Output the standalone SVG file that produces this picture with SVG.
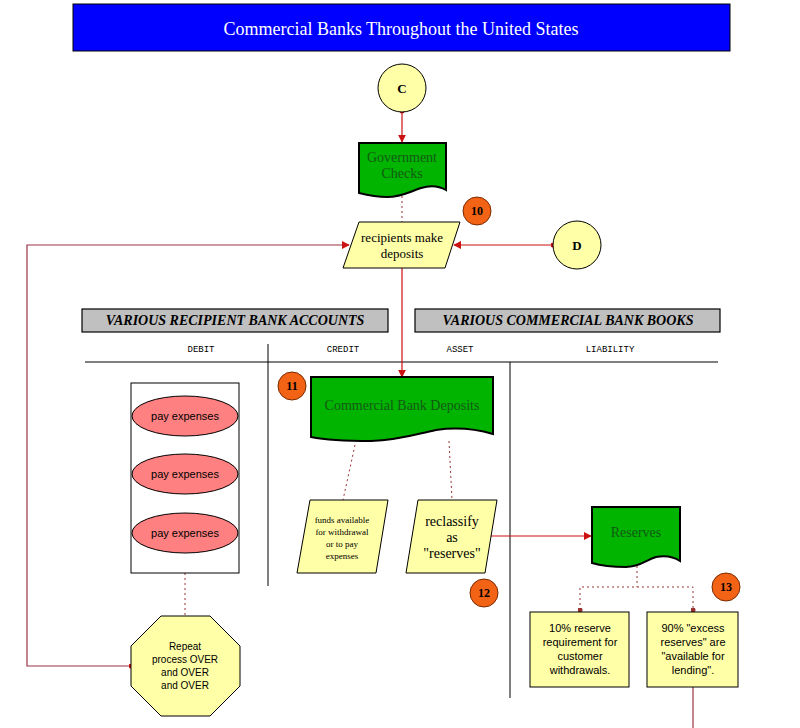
<svg xmlns="http://www.w3.org/2000/svg" width="800" height="728" viewBox="0 0 800 728">
<style>
.serif{font-family:"Liberation Serif","Times New Roman",serif}
.sans{font-family:"Liberation Sans",Arial,sans-serif}
.doc{fill:#00B400;stroke:#000;stroke-width:2}
.doct{font-family:"Liberation Serif",serif;font-size:14px;fill:#145A14;text-anchor:middle}
.yel{fill:#FFFFA8;stroke:#000;stroke-width:1}
.badge{fill:#F26315;stroke:#7A2A00;stroke-width:1}
.badget{font-family:"Liberation Serif",serif;font-size:12px;font-weight:bold;text-anchor:middle}
.hdr{fill:#C0C0C0;stroke:#000;stroke-width:1.2}
.hdrt{font-family:"Liberation Serif",serif;font-size:14px;font-weight:bold;font-style:italic;text-anchor:middle}
.col{font-family:"Liberation Mono","Courier New",monospace;font-size:9px;text-anchor:middle}
.red{stroke:#CC1111;stroke-width:1.2;fill:none}
.loop{stroke:#993344;stroke-width:1.2;fill:none}
.dot{stroke:#993333;stroke-width:1;stroke-dasharray:2,3;fill:none}
.rule{stroke:#000;stroke-width:1;fill:none}
.ell{fill:#FF8080;stroke:#000;stroke-width:1}
.st{font-family:"Liberation Sans",Arial,sans-serif;font-size:11px;text-anchor:middle}
</style>
<defs>
<marker id="arr" viewBox="0 0 10 10" refX="9" refY="5" markerWidth="8" markerHeight="8" markerUnits="userSpaceOnUse" orient="auto"><path d="M0,0 L10,5 L0,10 Z" fill="#CC1111"/></marker>
<marker id="sdot" viewBox="0 0 10 10" refX="5" refY="5" markerWidth="5" markerHeight="5" markerUnits="userSpaceOnUse"><circle cx="5" cy="5" r="5" fill="#CC1111"/></marker>
<marker id="ddot" viewBox="0 0 10 10" refX="5" refY="5" markerWidth="5" markerHeight="5" markerUnits="userSpaceOnUse"><circle cx="5" cy="5" r="5" fill="#993333"/></marker>
</defs>
<rect width="800" height="728" fill="#fff"/>

<g id="title">
<rect x="73" y="4" width="657" height="47" fill="#0000FF" stroke="#000" stroke-width="1"/>
<text x="401" y="35" class="serif" font-size="18" fill="#fff" text-anchor="middle">Commercial Banks Throughout the United States</text>
</g>

<g id="tables">
<g id="hdr-left"><rect class="hdr" x="82" y="309" width="306" height="23"/><text class="hdrt" x="235" y="325">VARIOUS RECIPIENT BANK ACCOUNTS</text></g>
<g id="hdr-right"><rect class="hdr" x="415" y="309" width="305" height="23"/><text class="hdrt" x="568" y="325">VARIOUS COMMERCIAL BANK BOOKS</text></g>
<text class="col" x="201" y="352">DEBIT</text>
<text class="col" x="343" y="352">CREDIT</text>
<text class="col" x="460" y="352">ASSET</text>
<text class="col" x="610" y="352">LIABILITY</text>
<line class="rule" x1="85" y1="362" x2="718" y2="362"/>
<line class="rule" x1="268" y1="344" x2="268" y2="586"/>
<line class="rule" x1="510" y1="362" x2="510" y2="698"/>
</g>

<g id="connectors">
<line class="red" x1="402" y1="111" x2="402" y2="142" marker-start="url(#sdot)" marker-end="url(#arr)"/>
<line class="dot" x1="402" y1="196" x2="402" y2="222"/>
<line class="red" x1="553" y1="245" x2="454" y2="245" marker-start="url(#sdot)" marker-end="url(#arr)"/>
<polyline class="loop" points="131,666 27,666 27,245 349,245" marker-start="url(#sdot)" marker-end="url(#arr)"/>
<line class="red" x1="402" y1="268" x2="402" y2="377" marker-end="url(#arr)"/>
<line class="dot" x1="355" y1="445" x2="343" y2="500"/>
<line class="dot" x1="449" y1="441" x2="452" y2="500"/>
<line class="red" x1="491" y1="536" x2="591" y2="536" marker-end="url(#arr)"/>
<line class="dot" x1="185" y1="573" x2="185" y2="616"/>
<line class="dot" x1="637" y1="566" x2="637" y2="587"/>
<polyline class="dot" points="580,610 580,587 693,587 693,610" marker-start="url(#ddot)" marker-end="url(#ddot)"/>
<line class="loop" x1="693" y1="687" x2="693" y2="728"/>
</g>

<g id="node-C"><circle class="yel" cx="402" cy="88" r="24"/><text class="serif" x="402" y="93" font-size="13" font-weight="bold" text-anchor="middle">C</text></g>

<g id="node-govchecks" transform="translate(359,143)">
<path class="doc" d="M0,0 H87 V47 C80,43 72,42 62,45 C50,49 42,54 28,54 C16,54 8,52 0,50 Z"/>
<text class="doct" x="43" y="19">Government</text>
<text class="doct" x="43" y="35">Checks</text>
</g>

<g id="node-recipients">
<polygon class="yel" points="359,222 460,222 445,268 343,268"/>
<text class="serif" x="402" y="242" font-size="13" text-anchor="middle">recipients make</text>
<text class="serif" x="402" y="258" font-size="13" text-anchor="middle">deposits</text>
</g>

<g id="badge-10"><circle class="badge" cx="477" cy="211" r="14"/><text class="badget" x="477" y="215">10</text></g>

<g id="node-D"><circle class="yel" cx="577" cy="245" r="24"/><text class="serif" x="577" y="250" font-size="13" font-weight="bold" text-anchor="middle">D</text></g>

<g id="node-payexpenses">
<rect x="131" y="383" width="108" height="190" fill="#fff" stroke="#000" stroke-width="1"/>
<ellipse class="ell" cx="185" cy="416" rx="53" ry="20"/><text class="st" x="185" y="420">pay expenses</text>
<ellipse class="ell" cx="185" cy="474" rx="53" ry="20"/><text class="st" x="185" y="478">pay expenses</text>
<ellipse class="ell" cx="185" cy="533" rx="53" ry="20"/><text class="st" x="185" y="537">pay expenses</text>
</g>

<g id="node-repeat">
<polygon class="yel" points="161,616 210,616 240,646 240,686 210,716 161,716 131,686 131,646"/>
<text class="sans" font-size="10" text-anchor="middle" x="185" y="650">Repeat</text>
<text class="sans" font-size="10" text-anchor="middle" x="185" y="663">process OVER</text>
<text class="sans" font-size="10" text-anchor="middle" x="185" y="676">and OVER</text>
<text class="sans" font-size="10" text-anchor="middle" x="185" y="689">and OVER</text>
</g>

<g id="node-cbdeposits" transform="translate(311,377)">
<path class="doc" d="M0,0 H182 V57 C165,52 145,50 125,53 C105,57 90,63 60,64 C35,64 15,63 0,60 Z"/>
<text class="doct" x="91" y="33" font-size="15">Commercial Bank Deposits</text>
</g>

<g id="badge-11"><circle class="badge" cx="292" cy="386" r="14"/><text class="badget" x="292" y="390">11</text></g>

<g id="node-funds">
<polygon class="yel" points="310,500 388,500 376,573 297,573"/>
<text class="serif" font-size="9" text-anchor="middle" x="342" y="523">funds available</text>
<text class="serif" font-size="9" text-anchor="middle" x="342" y="535">for withdrawal</text>
<text class="serif" font-size="9" text-anchor="middle" x="342" y="547">or to pay</text>
<text class="serif" font-size="9" text-anchor="middle" x="342" y="559">expenses</text>
</g>

<g id="node-reclassify">
<polygon class="yel" points="418,500 497,500 485,573 406,573"/>
<text class="serif" font-size="14" text-anchor="middle" x="452" y="526">reclassify</text>
<text class="serif" font-size="14" text-anchor="middle" x="452" y="542">as</text>
<text class="serif" font-size="14" text-anchor="middle" x="452" y="558">"reserves"</text>
</g>

<g id="badge-12"><circle class="badge" cx="484" cy="593" r="14"/><text class="badget" x="484" y="597">12</text></g>

<g id="node-reserves" transform="translate(592,507)">
<path class="doc" d="M0,0 H88 V54 C82,50 75,48 64,50 C54,53 48,60 34,60 C20,60 10,59 0,56 Z"/>
<text class="doct" x="44" y="30">Reserves</text>
</g>

<g id="badge-13"><circle class="badge" cx="726" cy="587" r="14"/><text class="badget" x="726" y="591">13</text></g>

<g id="node-10pct">
<rect class="yel" x="530" y="612" width="99" height="75"/>
<text class="st" x="580" y="632">10% reserve</text>
<text class="st" x="580" y="646">requirement for</text>
<text class="st" x="580" y="660">customer</text>
<text class="st" x="580" y="674">withdrawals.</text>
</g>

<g id="node-90pct">
<rect class="yel" x="647" y="612" width="91" height="75"/>
<text class="st" x="693" y="632">90% "excess</text>
<text class="st" x="693" y="646">reserves" are</text>
<text class="st" x="693" y="660">"available for</text>
<text class="st" x="693" y="674">lending".</text>
</g>
</svg>
